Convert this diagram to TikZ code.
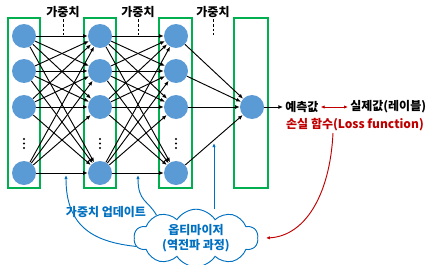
\documentclass[tikz,border=0pt]{standalone}
\usepackage{fontspec}
\setmainfont{Noto Sans CJK KR}
\usetikzlibrary{positioning,arrows.meta,shapes.symbols}
\definecolor{boxgreen}{RGB}{0,176,80}
\definecolor{neuronblue}{RGB}{91,155,213}
\definecolor{optblue}{RGB}{0,112,192}
\definecolor{lossred}{RGB}{192,0,0}

\begin{document}
\begin{tikzpicture}[
  x=0.75pt, y=-0.75pt,
  layer/.style={draw=boxgreen, line width=0.9pt},
  neuron/.style={circle, fill=neuronblue, minimum size=18pt, inner sep=0pt},
  wedge/.style={draw=black, line width=0.7pt, -{Latex[length=3.5pt,width=3pt]}},
  txt/.style={font=\bfseries\fontsize{9}{10.5}\selectfont, inner sep=1.5pt},
  wlabel/.style={txt, inner sep=1pt},
  upd/.style={draw=optblue, line width=0.7pt, -{Latex[length=3pt,width=2.5pt]}},
  opt/.style={cloud, cloud puffs=10, cloud puff arc=115, aspect=3.2, draw=optblue,
    fill=white, line width=0.7pt, inner sep=0pt, align=center,
    text=optblue, font=\bfseries\fontsize{9}{11}\selectfont}
]
  \useasboundingbox (0,0) rectangle (431,264);

  % --- layer boxes
  \draw[layer] (8,18)    rectangle (40,188);
  \draw[layer] (84,18)   rectangle (116,188);
  \draw[layer] (159,18)  rectangle (192,188);
  \draw[layer] (234,18)  rectangle (268,188);

  % --- neurons (and the vertical dots)
  \foreach \l/\x in {1/24,2/100,3/176} {
    \foreach \r/\y in {1/36,2/71,3/107,4/173}
      \node[neuron] (n\l\r) at (\x,\y) {};
    \foreach \y in {139,143.5,148}
      \fill (\x,\y) circle (1.1);
  }
  \node[neuron] (out) at (252,107) {};

  % --- weights between layers
  \foreach \a in {1,...,4} {
    \foreach \b in {1,...,4} {
      \draw[wedge] (n1\a) -- (n2\b);
      \draw[wedge] (n2\a) -- (n3\b);
    }
    \draw[wedge] (n3\a) -- (out);
  }

  % weight labels
  \foreach \i/\x in {1/63,2/138,3/213} {
    \node[wlabel] (w\i) at (\x,12) {가중치};
    \coordinate (w\i e) at (\x,35);
    \draw[line width=0.6pt, dash pattern=on 2pt off 1.5pt] (w\i) -- (w\i e);
  }

  % --- output and loss
  \node[txt, anchor=west] (pred) at (283,107) {예측값};
  \draw[wedge] (out) -- (pred);
  \node[txt, anchor=west] (label) at (348,107) {실제값(레이블)};
  \draw[lossred, line width=0.7pt, {Latex[length=3pt,width=2.5pt]}-{Latex[length=3pt,width=2.5pt]}]
    (pred) -- (label);
  \node[txt, text=lossred] (loss) at (355,125) {손실 함수(Loss function)};

  % --- optimizer
  \node[opt, minimum width=88pt, minimum height=28pt] (optim) at (196,238)
    {옵티마이저\\(역전파 과정)};
  \coordinate (lossdn) at (333,133);
  \coordinate (lossend) at (266,238);
  \draw[lossred, line width=0.7pt, -{Latex[length=3pt,width=2.5pt]}]
    (lossdn) .. controls (330,195) and (305,236) .. (lossend);

  % updates back to the weights
  \coordinate (ua) at (66,175);
  \coordinate (ub) at (138,175);
  \coordinate (uc) at (214,143);
  \draw[upd] (optim.188) .. controls (95,242) and (66,228) .. (ua);
  \draw[upd] (optim.150) .. controls (148,200) and (138,202) .. (ub);
  \draw[upd] (optim.north -| uc) -- (uc);
  \node[txt, text=optblue] (updlab) at (106,212) {가중치 업데이트};
\end{tikzpicture}
\end{document}
